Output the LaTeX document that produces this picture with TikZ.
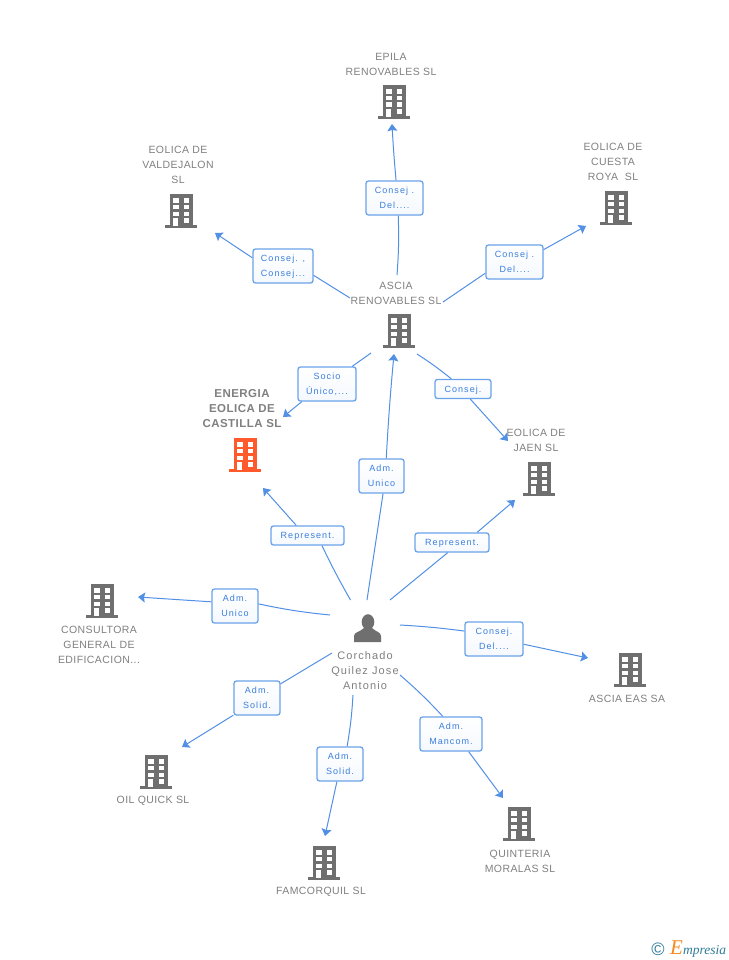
\documentclass[tikz,border=0pt]{standalone}
\usepackage{fontspec}
\setmainfont{Liberation Sans}
\newfontfamily\boxfont[LetterSpace=12]{Liberation Sans}
\newfontfamily\namefont[LetterSpace=4]{Liberation Sans}
\newfontfamily\personfont[LetterSpace=10]{Liberation Sans}
\newfontfamily\logofont{Liberation Serif}
\usetikzlibrary{arrows.meta}
\definecolor{linkblue}{HTML}{5290E6}
\definecolor{boxblue}{HTML}{6AA3EA}
\definecolor{textblue}{HTML}{3A7EDC}
\definecolor{iconGrey}{HTML}{6F6F6F}
\definecolor{nameGrey}{HTML}{808080}
\definecolor{iconRed}{HTML}{FF5A2B}
\definecolor{logoTeal}{HTML}{2F7C98}
\definecolor{logoOrange}{HTML}{F58A1F}
\tikzset{
  link/.style={linkblue, line width=1pt},
  relbox/.style={draw=boxblue, line width=1.3pt, rounded corners=2.5pt, top color=white, bottom color=white!93!boxblue, text=textblue, font=\boxfont\fontsize{9}{15}\selectfont, align=center, inner sep=0pt, text depth=0pt, minimum height=34},
  namelbl/.style={text=nameGrey, font=\namefont\fontsize{10.5}{15}\selectfont, align=center, inner sep=0pt},
  bldg/.pic={
    \fill[pic actions] (-11.5,-17) rectangle (11.5,15);
    \fill[pic actions] (-16,14) rectangle (16,17);
    \foreach \wy in {-12.9,-6.3,0.5} {
      \fill[white] (-7.6,\wy) rectangle ++(5.2,4.6);
      \fill[white] (2.6,\wy) rectangle ++(5.2,4.6);
    }
    \fill[white] (2.6,7) rectangle ++(5.2,4.6);
    \fill[white] (-7.6,7) rectangle ++(4.8,8);
  }
}
\begin{document}
\begin{tikzpicture}[x=1pt,y=-1pt,>={Stealth[length=7pt,width=10pt,inset=1pt]}]
\useasboundingbox[fill=white] (0,0) rectangle (728,960);
% buildings
\foreach \nm/\x/\y in {epila/394/102, valdejalon/181/211, cuesta/616/208, asciaren/399/331, jaen/539/479, consultora/102/601, asciaeas/630/670, oilquick/156/772, famcorquil/324/863, quinteria/519/824} {
 \path (\x,\y) pic[fill=iconGrey] {bldg} coordinate (\nm);
}
\path (245,455) pic[fill=iconRed] {bldg} coordinate (energia);
% person
\fill[iconGrey] (368,622) ellipse (6.3 and 7.8);
\fill[iconGrey] (354,642) -- (354,636) .. controls (354,632) and (360,632) .. (364,628) -- (372,628) .. controls (376,632) and (381,632) .. (381,636) -- (381,642) -- cycle;
% names
\node[namelbl] (lblepila) at (391,64) {EPILA\\RENOVABLES SL};
\node[namelbl] (lblvalde) at (178,165) {EOLICA DE\\VALDEJALON\\SL};
\node[namelbl] (lblcuesta) at (613,162) {EOLICA DE\\CUESTA\\ROYA\ \ SL};
\node[namelbl] (lblascia) at (396,293) {ASCIA\\RENOVABLES SL};
\node[namelbl, font=\namefont\bfseries\fontsize{11.5}{15}\selectfont] (lblenergia) at (242,409) {ENERGIA\\EOLICA DE\\CASTILLA SL};
\node[namelbl] (lbljaen) at (536,440) {EOLICA DE\\JAEN SL};
\node[namelbl] (lblconsul) at (99,645) {CONSULTORA\\GENERAL DE\\EDIFICACION...};
\node[namelbl] (lbleas) at (627,699) {ASCIA EAS SA};
\node[namelbl] (lbloil) at (153,801) {OIL QUICK SL};
\node[namelbl] (lblfam) at (321,892) {FAMCORQUIL SL};
\node[namelbl] (lblquin) at (520,861) {QUINTERIA\\MORALAS SL};
\node[namelbl, font=\personfont\fontsize{11}{15}\selectfont] (lblperson) at (365,671) {Corchado\\Quilez Jose\\Antonio};
% relation boxes
\node[relbox, minimum width=57] (bepila) at (394.5,198) {Consej .\\Del....};
\node[relbox, minimum width=60] (bvalde) at (283,266) {Consej. ,\\Consej...};
\node[relbox, minimum width=57] (bcuesta) at (514.5,262) {Consej .\\Del....};
\node[relbox, minimum width=58] (bsocio) at (327,384) {Socio\\Único,...};
\node[relbox, minimum width=56, minimum height=19] (bjaen) at (463,389) {Consej.};
\node[relbox, minimum width=45] (bunico) at (381.5,476) {Adm.\\Unico};
\node[relbox, minimum width=73, minimum height=19] (brepl) at (307.5,535.5) {Represent.};
\node[relbox, minimum width=74, minimum height=19] (brepr) at (452,542.5) {Represent.};
\node[relbox, minimum width=46] (bconsul) at (235,606) {Adm.\\Unico};
\node[relbox, minimum width=58] (beas) at (494,639) {Consej.\\Del....};
\node[relbox, minimum width=46] (boil) at (257,698) {Adm.\\Solid.};
\node[relbox, minimum width=46] (bfam) at (340,764) {Adm.\\Solid.};
\node[relbox, minimum width=62] (bquin) at (451,734) {Adm.\\Mancom.};
% connector ends
\foreach \nm/\x/\y in {
 sepila/397/275, eepila/392/124,
 svalde/350/298, evalde/215/233,
 scuesta/443/302, ecuesta/586/226,
 ssocio/371/353, esocio/283/417,
 sjaen/417/354, ejaen/508/441,
 sunico/367/600, eunico/394/354,
 srepl/350.5/600, erepl/263/488,
 srepr/390/600, erepr/515/500,
 sconsul/330/615, econsul/138/597,
 seas/400/625, eeas/588/658,
 soil/332/653, eoil/182/747,
 sfam/353/695, efam/325/836,
 squin/400/675, equin/503/798} {
 \coordinate (\nm) at (\x,\y);
}
% connectors
\foreach \s/\b/\e/\aA/\aB/\bA/\bB in {
 sepila/bepila/eepila/-78/85/-3/1,
 svalde/bvalde/evalde/-17/165/0/0,
 scuesta/bcuesta/ecuesta/201/23/0/0,
 ssocio/bsocio/esocio/35/215/0/0,
 sjaen/bjaen/ejaen/139/-54/3/0,
 sunico/bunico/eunico/-85/75/0/1,
 srepl/brepl/erepl/-35/138/2/0,
 srepr/brepr/erepr/-113/22/0/0,
 sconsul/bconsul/econsul/5/170/3/0,
 seas/beas/eeas/165/-10/2/0,
 soil/boil/eoil/31/216/0/0,
 sfam/bfam/efam/68/-100/3/0,
 squin/bquin/equin/115/-45/3/0} {
 \draw[link] (\s) to[bend left=\bA] (\b.\aA);
 \draw[link, ->] (\b.\aB) to[bend left=\bB] (\e);
}
% logo
\node[inner sep=0pt, text=logoTeal, font=\fontsize{18}{18}\selectfont] (copyr) at (658,949) {©};
\node[inner sep=0pt, anchor=base west, text=logoTeal, font=\logofont\itshape\fontsize{13.5}{14}\selectfont] (logo) at (670,954) {\textcolor{logoOrange}{\fontsize{21}{21}\selectfont E}mpresia};
\end{tikzpicture}
\end{document}
